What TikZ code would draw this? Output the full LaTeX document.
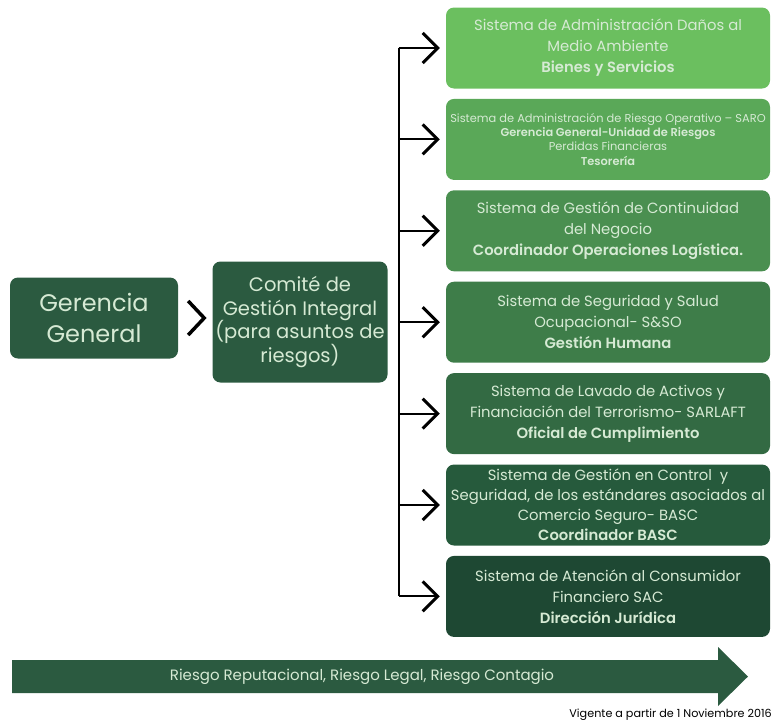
\documentclass[tikz,border=0pt]{standalone}
\usepackage{fontspec}
\setmainfont{Poppins}[BoldFont={Poppins SemiBold}]
\usetikzlibrary{positioning, calc, arrows.meta}

\definecolor{sysA}{HTML}{6BBF5F}
\definecolor{sysB}{HTML}{5AA858}
\definecolor{sysC}{HTML}{4A8F50}
\definecolor{sysD}{HTML}{3E7D49}
\definecolor{sysE}{HTML}{336A43}
\definecolor{sysF}{HTML}{265A3C}
\definecolor{sysG}{HTML}{1E4833}
\definecolor{mainfill}{HTML}{2B5A40}
\definecolor{boxtext}{HTML}{D6EAD4}

\begin{document}
\begin{tikzpicture}[x=1pt, y=-1pt,
% Define a custom style for nodes
    sysnode/.style={
        rectangle,
        rounded corners=8pt,
        minimum width=324pt,
        minimum height=81pt,
        inner sep=1pt,
        align=center,
        text=boxtext,
        font=\fontsize{14.8}{21}\selectfont
        },
    mainnode/.style={
        rectangle,
        rounded corners=8pt,
        fill=mainfill,
        text=boxtext,
        inner sep=1pt,
        align=center
        },
    barb/.style={->, >={Straight Barb[length=15pt,width=30pt,line width=3pt]}, line width=2pt}
]
\useasboundingbox (0,0) rectangle (775,726);

\node[mainnode, minimum width=168pt, minimum height=81pt, font=\fontsize{24}{31}\selectfont] (G) at (94,318) {Gerencia\\General};
\node[mainnode, minimum width=175pt, minimum height=121pt, font=\fontsize{19.5}{23.5}\selectfont] (C) at (300,322) {Comité de\\Gestión Integral\\(para asuntos de\\riesgos)};

\node[sysnode, fill=sysA] (S1) at (608,48) {Sistema de Administración Daños al\\Medio Ambiente\\\textbf{Bienes y Servicios}};
\node[sysnode, fill=sysB, below=10pt of S1, font=\fontsize{11.4}{14.2}\selectfont] (S2) {Sistema de Administración de Riesgo Operativo -- SARO\\\textbf{Gerencia General-Unidad de Riesgos}\\Perdidas Financieras\\\textbf{Tesorería}};
\node[sysnode, fill=sysC, below=10pt of S2] (S3) {Sistema de Gestión de Continuidad\\del Negocio\\\textbf{Coordinador Operaciones Logística.}};
\node[sysnode, fill=sysD, below=10pt of S3] (S4) {Sistema de Seguridad y Salud\\Ocupacional- S\&SO\\\textbf{Gestión Humana}};
\node[sysnode, fill=sysE, below=10pt of S4] (S5) {Sistema de Lavado de Activos y\\Financiación del Terrorismo- SARLAFT\\\textbf{Oficial de Cumplimiento}};
\node[sysnode, fill=sysF, below=10pt of S5, font=\fontsize{14.8}{20}\selectfont] (S6) {Sistema de Gestión en Control~ y\\Seguridad, de los estándares asociados al\\Comercio Seguro- BASC\\\textbf{Coordinador BASC}};
\node[sysnode, fill=sysG, below=10pt of S6] (S7) {Sistema de Atención al Consumidor\\Financiero SAC\\\textbf{Dirección Jurídica}};

% chevron between the two main boxes
\draw[line width=3.5pt] ($(G.east)+(10,-17)$) -- ++(16,17) -- ++(-16,17);

\coordinate (bus) at ($(C.east)+(11,0)$);
\draw[line width=2pt] (bus |- S1.west) -- (bus |- S7.west);
\foreach \i in {1,...,7}
    \draw[barb] (bus |- S\i.west) -- ($(S\i.west)+(-6,0)$);

% risk arrow at the bottom
\fill[mainfill] (12,660) -- (718,660) -- (718,647) -- (748,676.5) -- (718,706) -- (718,693) -- (12,693) -- cycle;
\node[text=boxtext, font=\fontsize{15}{17}\selectfont] (riesgo) at (362,676.5) {Riesgo Reputacional, Riesgo Legal, Riesgo Contagio};

\node[anchor=east, font=\fontsize{11.2}{13}\selectfont, inner sep=1pt] (vigente) at (773,715) {Vigente a partir de 1 Noviembre 2016};

\end{tikzpicture}
\end{document}
